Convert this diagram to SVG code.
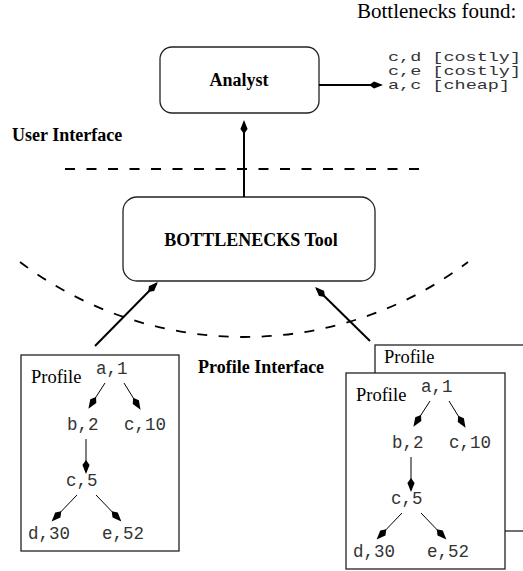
<svg xmlns="http://www.w3.org/2000/svg" width="523" height="571" viewBox="0 0 523 571">
<style>
.box{fill:#fff;stroke:#222;stroke-width:1.3}
.bold{font-family:"Liberation Serif","Times New Roman",serif;font-weight:bold;font-size:18px;fill:#000}
.serif{font-family:"Liberation Serif","Times New Roman",serif;font-size:18.5px;fill:#000}
.mono{font-family:"Liberation Mono","Courier New",monospace;font-size:17.5px;fill:#333}
.code{font-family:"Liberation Mono","Courier New",monospace;font-size:12.2px;fill:#333}
.thick{stroke:#000;stroke-width:2;fill:none;marker-end:url(#head)}
.thin{stroke:#000;stroke-width:1;fill:none;marker-end:url(#head)}
.dash{stroke:#000;stroke-width:2;fill:none;stroke-dasharray:10 11.5}
</style>
<defs>
<marker id="head" markerUnits="userSpaceOnUse" viewBox="0 -5 16 10" refX="12" refY="0" markerWidth="16" markerHeight="10" orient="auto">
<path d="M14,0 L5,-3.6 L0,0 L5,3.6 Z" fill="#000"/>
</marker>
</defs>
<rect width="523" height="571" fill="#fff"/>

<g id="bottlenecks-found">
<text class="serif" x="357" y="18" style="font-size:21px">Bottlenecks found:</text>
<text class="code" x="388" y="61" textLength="133" lengthAdjust="spacingAndGlyphs">c,d [costly]</text>
<text class="code" x="388" y="75" textLength="133" lengthAdjust="spacingAndGlyphs">c,e [costly]</text>
<text class="code" x="388" y="89" textLength="122" lengthAdjust="spacingAndGlyphs">a,c [cheap]</text>
</g>

<g id="analyst">
<rect class="box" x="160" y="47" width="159" height="66" rx="12"/>
<text class="bold" x="239" y="86" text-anchor="middle">Analyst</text>
</g>

<g id="labels">
<text class="bold" x="12" y="141">User Interface</text>
<text class="bold" x="198" y="373">Profile Interface</text>
</g>

<g id="boundaries">
<line class="dash" x1="65" y1="169" x2="426" y2="169"/>
<path class="dash" d="M20,262 A372,372 0 0 0 468,262" style="stroke-width:1.8"/>
</g>

<g id="tool">
<rect class="box" x="123" y="197" width="252" height="84" rx="14"/>
<text class="bold" x="251" y="246" text-anchor="middle">BOTTLENECKS Tool</text>
</g>

<g id="connectors">
<line class="thick" x1="319" y1="85" x2="381" y2="85"/>
<line class="thick" x1="244" y1="197" x2="244" y2="122"/>
<line class="thick" x1="95" y1="346" x2="156.5" y2="283.5"/>
<line class="thick" x1="370" y1="341" x2="316.5" y2="288.5"/>
</g>

<g id="profile-left" transform="translate(21,355)">
<rect class="box" x="0" y="0" width="158" height="196"/>
<text class="serif" x="10" y="28">Profile</text>
<text class="mono" x="75" y="19">a,1</text>
<text class="mono" x="46" y="75">b,2</text>
<text class="mono" x="103" y="75">c,10</text>
<text class="mono" x="45" y="131">c,5</text>
<text class="mono" x="7" y="184">d,30</text>
<text class="mono" x="81" y="184">e,52</text>
<g id="tree-left-edges">
<line class="thin" x1="84" y1="28" x2="68.5" y2="52"/>
<line class="thin" x1="103" y1="28" x2="118.5" y2="53"/>
<line class="thin" x1="65" y1="84" x2="65" y2="117"/>
<line class="thin" x1="56" y1="140" x2="32" y2="165"/>
<line class="thin" x1="75" y1="140" x2="99" y2="165"/>
</g>
</g>

<g id="profile-back">
<rect class="box" x="375" y="345" width="200" height="186"/>
<text class="serif" x="384" y="363">Profile</text>
</g>

<g id="profile-right" transform="translate(346,373)">
<rect class="box" x="0" y="0" width="159" height="196"/>
<text class="serif" x="10" y="28">Profile</text>
<text class="mono" x="75" y="19">a,1</text>
<text class="mono" x="46" y="75">b,2</text>
<text class="mono" x="103" y="75">c,10</text>
<text class="mono" x="45" y="131">c,5</text>
<text class="mono" x="7" y="184">d,30</text>
<text class="mono" x="81" y="184">e,52</text>
<g id="tree-right-edges">
<line class="thin" x1="84" y1="28" x2="68.5" y2="52"/>
<line class="thin" x1="103" y1="28" x2="118.5" y2="53"/>
<line class="thin" x1="65" y1="84" x2="65" y2="117"/>
<line class="thin" x1="56" y1="140" x2="32" y2="165"/>
<line class="thin" x1="75" y1="140" x2="99" y2="165"/>
</g>
</g>
</svg>
